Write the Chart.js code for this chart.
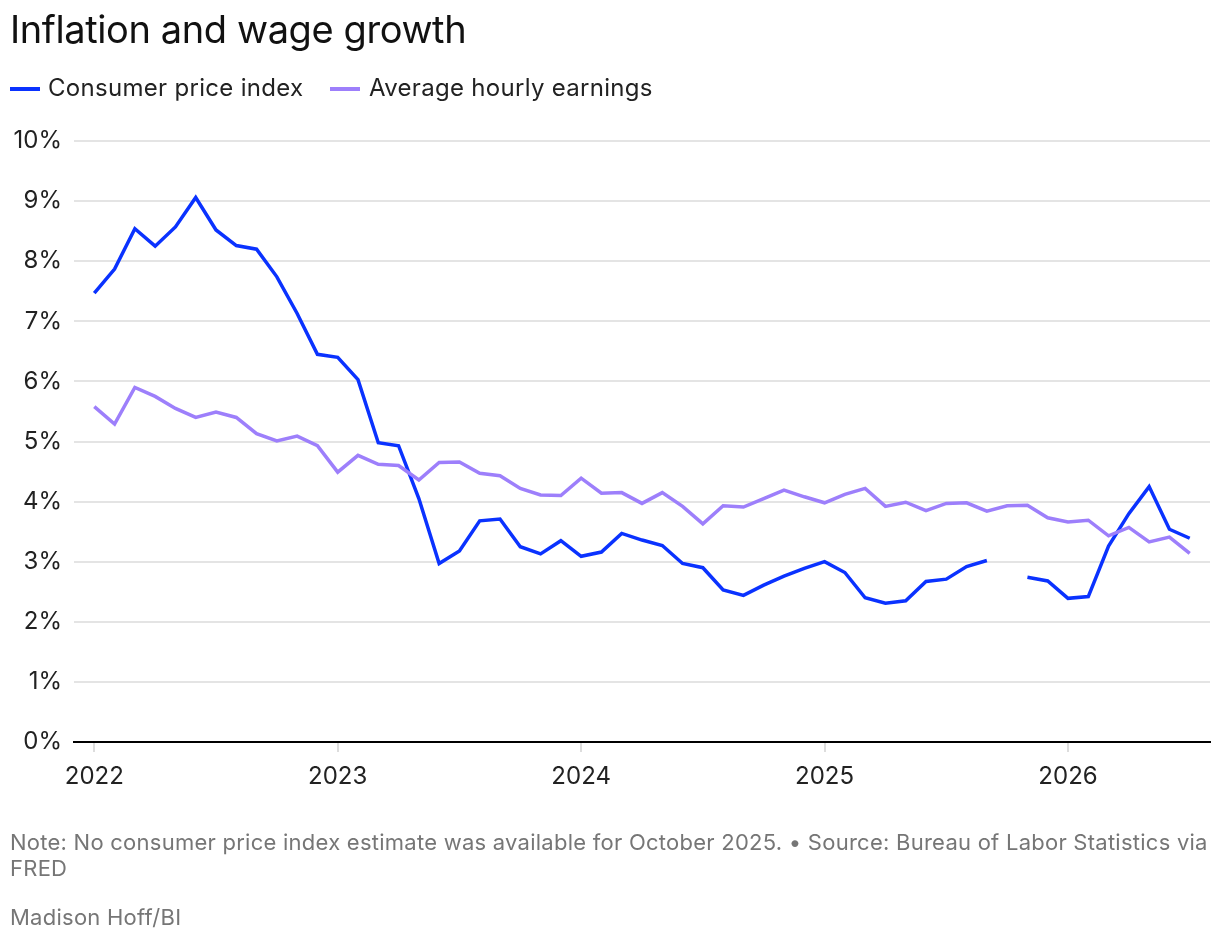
<!DOCTYPE html>
<html>
<head>
<meta charset="utf-8">
<script src="https://cdn.jsdelivr.net/npm/chart.js@4.4.1/dist/chart.umd.min.js"></script>
<style>
  html, body { margin: 0; padding: 0; background: #fff; }
  body { width: 1220px; height: 944px; position: relative; overflow: hidden; font-family: "Inter", sans-serif; }
  #wrap { position: absolute; left: 0; top: 0; width: 1220px; height: 944px; }
  .title { position: absolute; left: 10px; top: 10px; font-size: 38px; line-height: 1; color: #111; white-space: nowrap; letter-spacing: -0.4px; }
  .legend { position: absolute; top: 76px; left: 10px; font-size: 24px; line-height: 1; color: #222; white-space: nowrap; letter-spacing: 0.3px; }
  .item { position: absolute; top: 0; white-space: nowrap; }
  .sw { position: absolute; top: 11px; width: 30px; height: 4px; }
  .note { position: absolute; left: 10px; font-size: 22px; line-height: 1; color: #767676; white-space: nowrap; letter-spacing: 0.25px; }
</style>
</head>
<body>
<div id="wrap"><canvas id="c" width="1220" height="944" style="width:1220px;height:944px"></canvas></div>
<div class="title">Inflation and wage growth</div>
<div class="legend">
  <div class="item" style="left:0"><span class="sw" style="left:0;background:#0a32ff"></span><span style="position:absolute;left:38px">Consumer price index</span></div>
  <div class="item" style="left:320px"><span class="sw" style="left:0;background:#9d7ffb"></span><span style="position:absolute;left:39px">Average hourly earnings</span></div>
</div>
<div class="note" style="top:831px">Note: No consumer price index estimate was available for October 2025. • Source: Bureau of Labor Statistics via</div>
<div class="note" style="top:857px">FRED</div>
<div class="note" style="top:906px">Madison Hoff/BI</div>
<script>
// Months Jan 2022 .. Jul 2026 (index 0 = Jan 2022)
const months = [
  "2022-01","2022-02","2022-03","2022-04","2022-05","2022-06","2022-07","2022-08","2022-09","2022-10","2022-11","2022-12",
  "2023-01","2023-02","2023-03","2023-04","2023-05","2023-06","2023-07","2023-08","2023-09","2023-10","2023-11","2023-12",
  "2024-01","2024-02","2024-03","2024-04","2024-05","2024-06","2024-07","2024-08","2024-09","2024-10","2024-11","2024-12",
  "2025-01","2025-02","2025-03","2025-04","2025-05","2025-06","2025-07","2025-08","2025-09","2025-10","2025-11","2025-12",
  "2026-01","2026-02","2026-03","2026-04","2026-05","2026-06","2026-07"
];
const cpi = [
  7.47, 7.87, 8.54, 8.25, 8.57, 9.06, 8.52, 8.26, 8.20, 7.74, 7.13, 6.45,
  6.40, 6.03, 4.98, 4.93, 4.05, 2.97, 3.18, 3.68, 3.71, 3.25, 3.13, 3.35,
  3.09, 3.16, 3.47, 3.36, 3.27, 2.97, 2.90, 2.53, 2.44, 2.61, 2.76, 2.89,
  3.00, 2.82, 2.40, 2.31, 2.35, 2.67, 2.71, 2.92, 3.02, null, 2.74, 2.68,
  2.39, 2.42, 3.26, 3.80, 4.25, 3.54, 3.39
];
const wages = [
  5.58, 5.29, 5.90, 5.75, 5.55, 5.40, 5.49, 5.40, 5.13, 5.01, 5.09, 4.93,
  4.49, 4.77, 4.62, 4.60, 4.36, 4.65, 4.66, 4.47, 4.43, 4.22, 4.11, 4.10,
  4.39, 4.14, 4.15, 3.97, 4.15, 3.92, 3.63, 3.93, 3.91, 4.05, 4.19, 4.08,
  3.98, 4.12, 4.22, 3.92, 3.99, 3.85, 3.97, 3.98, 3.84, 3.93, 3.94, 3.73,
  3.66, 3.69, 3.43, 3.57, 3.33, 3.41, 3.14
];
const yearTicks = [2022, 2023, 2024, 2025, 2026];
const yTicks = [0, 1, 2, 3, 4, 5, 6, 7, 8, 9, 10];

const toPoints = arr => arr.map((v, i) => ({ x: i, y: v }));
const tickFont = { family: "Inter", size: 24 };

new Chart(document.getElementById('c'), {
  type: 'line',
  data: {
    datasets: [
      { label: 'Average hourly earnings', data: toPoints(wages), borderColor: '#9d7ffb', borderWidth: 3.5, pointRadius: 0, tension: 0, spanGaps: false },
      { label: 'Consumer price index', data: toPoints(cpi), borderColor: '#0a32ff', borderWidth: 3.5, pointRadius: 0, tension: 0, spanGaps: false }
    ]
  },
  options: {
    responsive: false,
    animation: false,
    devicePixelRatio: 1,
    layout: { padding: { top: 141, right: 10, bottom: 122, left: 0 } },
    plugins: { legend: { display: false }, tooltip: { enabled: false } },
    scales: {
      x: {
        type: 'linear', min: -1, max: 55,
        afterBuildTicks: axis => { axis.ticks = yearTicks.map(y => ({ value: (y - 2022) * 12 })); },
        afterFit: s => { s.height = 80; },
        ticks: { callback: v => String(2022 + Math.round(v / 12)), font: tickFont, color: '#222', padding: 10, maxRotation: 0, autoSkip: false },
        grid: { drawOnChartArea: false, drawTicks: true, tickLength: 10, color: '#dddddd', lineWidth: 2 },
        border: { display: true, color: '#000', width: 2 }
      },
      y: {
        min: 0, max: 10,
        afterBuildTicks: axis => { axis.ticks = yTicks.map(v => ({ value: v })); },
        afterFit: s => { s.width = 74; },
        ticks: { callback: v => v + '%', font: tickFont, color: '#222', padding: 12 },
        grid: { drawTicks: false, color: '#e4e4e4', lineWidth: 2 },
        border: { display: false }
      }
    }
  }
});
</script>
</body>
</html>
